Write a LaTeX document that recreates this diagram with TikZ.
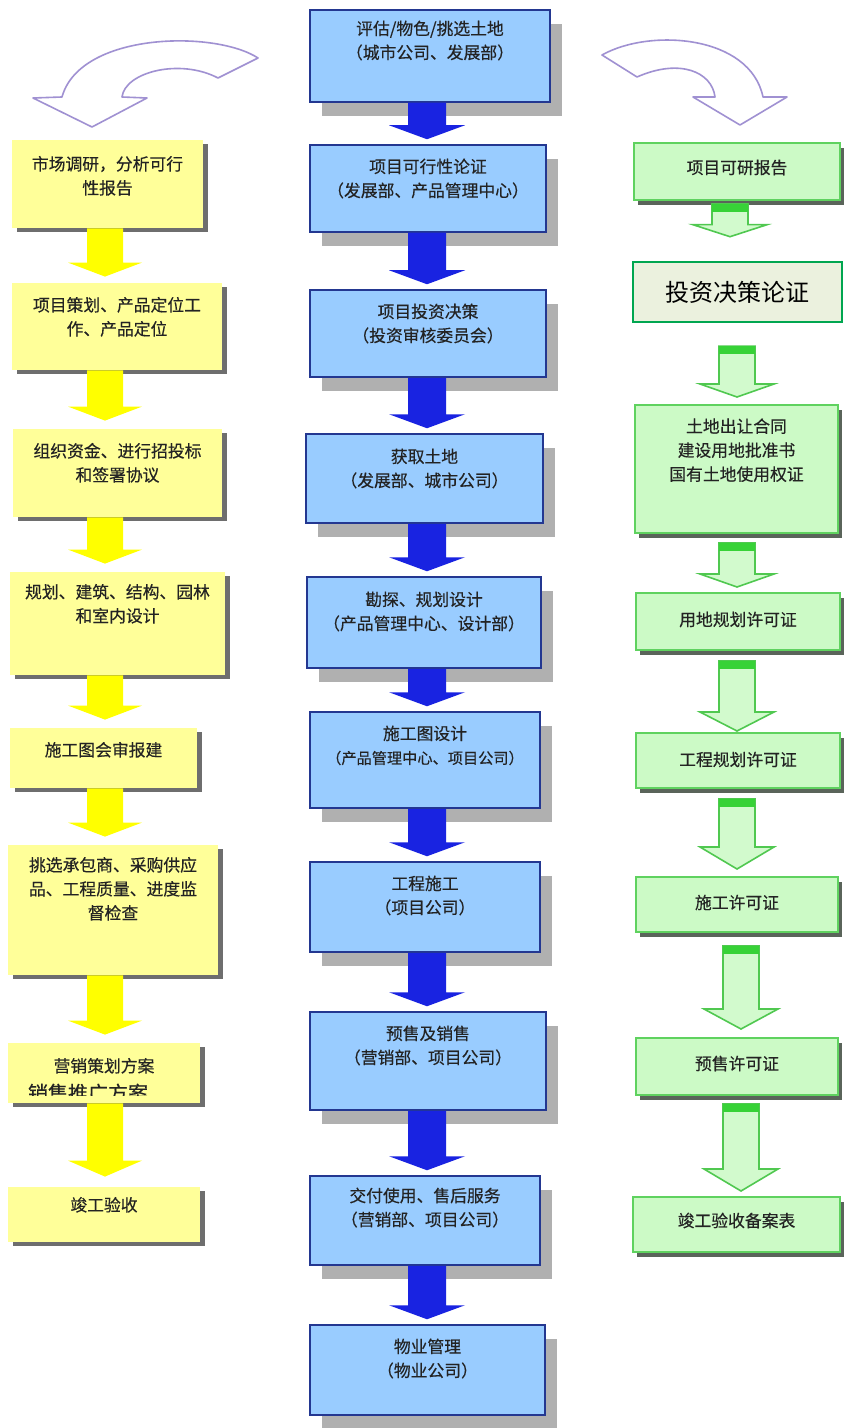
\documentclass[tikz,border=0pt]{standalone}
\usepackage{fontspec}
\newfontfamily\cjk[FakeBold=0.35]{Noto Sans CJK SC}
\newfontfamily\cjkplain{Noto Sans CJK SC}
\usetikzlibrary{calc,fit,shadows}
\definecolor{bfill}{RGB}{153,204,255}
\definecolor{bedge}{RGB}{35,55,145}
\definecolor{bshad}{RGB}{176,176,176}
\definecolor{barrowc}{RGB}{25,35,225}
\definecolor{yfill}{RGB}{255,255,153}
\definecolor{yshad}{RGB}{110,110,110}
\definecolor{yarrowc}{RGB}{255,255,0}
\definecolor{gfill}{RGB}{204,250,198}
\definecolor{gedge}{RGB}{95,210,95}
\definecolor{gshad}{RGB}{90,100,90}
\definecolor{garrowf}{RGB}{210,250,205}
\definecolor{garrowe}{RGB}{80,200,80}
\definecolor{gbandc}{RGB}{55,210,55}
\definecolor{dfill}{RGB}{235,241,222}
\definecolor{dedge}{RGB}{0,166,80}
\definecolor{curvc}{RGB}{160,145,210}
\definecolor{txtc}{RGB}{35,35,35}
% column block arrow: style, from node, to node, column coordinate, shaft half width, head half width, head length, gap (px)
\newcommand\colarrow[8]{%
  \path[#1] let \p1=(#2.south -| #4), \p2=(#3.north -| #4) in
    (\x1-#5*0.5pt,\y1) -- (\x1-#5*0.5pt,\y2+#7*0.5pt+#8*0.5pt) -- (\x1-#6*0.5pt,\y2+#7*0.5pt+#8*0.5pt)
    -- (\x1,\y2+#8*0.5pt) -- (\x1+#6*0.5pt,\y2+#7*0.5pt+#8*0.5pt) -- (\x1+#5*0.5pt,\y2+#7*0.5pt+#8*0.5pt)
    -- (\x1+#5*0.5pt,\y1) -- cycle;}
% green block arrow: from, to, column, head length, start gap, end gap (px)
\newcommand\garrow[6]{%
  \path[garr] let \p1=(#1.south -| #3), \p2=(#2.north -| #3) in
    (\x1-9pt,\y1-#5*0.5pt) -- (\x1-9pt,\y2+#4*0.5pt+#6*0.5pt) -- (\x1-18.5pt,\y2+#4*0.5pt+#6*0.5pt)
    -- (\x1,\y2+#6*0.5pt) -- (\x1+18.5pt,\y2+#4*0.5pt+#6*0.5pt) -- (\x1+9pt,\y2+#4*0.5pt+#6*0.5pt)
    -- (\x1+9pt,\y1-#5*0.5pt) -- cycle;
  \fill[gbandst] let \p1=(#1.south -| #3) in
    (\x1-9pt,\y1-#5*0.5pt) rectangle (\x1+9pt,\y1-#5*0.5pt-4pt);}
\tikzset{
  txt/.style={font=\cjk\fontsize{8.4}{12}\selectfont, align=center, inner sep=0pt, text=txtc},
  bbox/.style={draw=bedge, line width=0.75pt, fill=bfill, inner sep=0pt,
    drop shadow={shadow xshift=6pt, shadow yshift=-7pt, fill=bshad, opacity=1}},
  ybox/.style={fill=yfill, inner sep=0pt,
    drop shadow={shadow xshift=2.5pt, shadow yshift=-2pt, fill=yshad, opacity=1}},
  gbox/.style={draw=gedge, line width=1pt, fill=gfill, inner sep=0pt,
    drop shadow={shadow xshift=2pt, shadow yshift=-2.5pt, fill=gshad, opacity=1}},
  dbox/.style={draw=dedge, line width=1.3pt, fill=dfill, inner sep=0pt},
  barr/.style={fill=barrowc},
  yarr/.style={fill=yarrowc},
  garr/.style={fill=garrowf, draw=garrowe, line width=0.8pt, line join=miter},
  gbandst/.style={fill=gbandc},
  curv/.style={draw=curvc, line width=0.8pt, fill=white, line join=round},
}
\begin{document}
\begin{tikzpicture}[x=0.5pt,y=-0.5pt]
\useasboundingbox[fill=white] (0,0) rectangle (847,1428);

% curved arrows at the top
\draw[curv] (258,58) .. controls (215,30) and (80,32) .. (62,97) -- (33,98) -- (92,127) -- (147,98) -- (122,97)
  .. controls (125,72) and (180,58) .. (218,78) -- cycle;
\draw[curv] (602,55) .. controls (650,28) and (750,35) .. (763,97) -- (787,97) -- (740,125) -- (693,97) -- (715,97)
  .. controls (712,72) and (680,58) .. (637,77) -- cycle;

% column coordinates
\coordinate (bx) at (427,0);
\coordinate (yx) at (105,0);
\coordinate (gxa) at (730,0);
\coordinate (gxb) at (737,0);
\coordinate (gxc) at (741,0);

% centre (blue) boxes
\node[bbox, fit={(310,10) (550,102)}] (c1) {};
\node[bbox, fit={(310,145) (546,232)}] (c2) {};
\node[bbox, fit={(310,290) (546,377)}] (c3) {};
\node[bbox, fit={(306,434) (543,523)}] (c4) {};
\node[bbox, fit={(307,577) (541,668)}] (c5) {};
\node[bbox, fit={(310,712) (540,808)}] (c6) {};
\node[bbox, fit={(310,862) (540,952)}] (c7) {};
\node[bbox, fit={(310,1012) (546,1110)}] (c8) {};
\node[bbox, fit={(310,1176) (540,1265)}] (c9) {};
\node[bbox, fit={(310,1325) (545,1415)}] (c10) {};

% left (yellow) boxes
\node[ybox, fit={(12,140) (203,228)}] (y1) {};
\node[ybox, fit={(12,283) (222,370)}] (y2) {};
\node[ybox, fit={(13,429) (222,517)}] (y3) {};
\node[ybox, fit={(10,572) (225,675)}] (y4) {};
\node[ybox, fit={(10,728) (197,788)}] (y5) {};
\node[ybox, fit={(8,845) (218,975)}] (y6) {};
\node[ybox, fit={(8,1043) (200,1103)}] (y7) {};
\node[ybox, fit={(8,1187) (200,1242)}] (y8) {};

% right (green) boxes
\node[gbox, fit={(634,143) (840,200)}] (g1) {};
\node[dbox, fit={(633,262) (842,322)}] (g2) {};
\node[gbox, fit={(635,405) (838,533)}] (g3) {};
\node[gbox, fit={(636,593) (840,650)}] (g4) {};
\node[gbox, fit={(636,733) (840,788)}] (g5) {};
\node[gbox, fit={(636,877) (838,932)}] (g6) {};
\node[gbox, fit={(636,1038) (838,1095)}] (g7) {};
\node[gbox, fit={(633,1197) (840,1252)}] (g8) {};

% blue arrows
\colarrow{barr}{c1}{c2}{bx}{19}{38}{14}{5}
\colarrow{barr}{c2}{c3}{bx}{19}{38}{14}{5}
\colarrow{barr}{c3}{c4}{bx}{19}{38}{14}{5}
\colarrow{barr}{c4}{c5}{bx}{19}{38}{14}{5}
\colarrow{barr}{c5}{c6}{bx}{19}{38}{14}{5}
\colarrow{barr}{c6}{c7}{bx}{19}{38}{14}{5}
\colarrow{barr}{c7}{c8}{bx}{19}{38}{14}{5}
\colarrow{barr}{c8}{c9}{bx}{19}{38}{14}{5}
\colarrow{barr}{c9}{c10}{bx}{19}{38}{14}{5}

% yellow arrows
\colarrow{yarr}{y1}{y2}{yx}{18}{37}{14}{6}
\colarrow{yarr}{y2}{y3}{yx}{18}{37}{14}{8}
\colarrow{yarr}{y3}{y4}{yx}{18}{37}{14}{8}
\colarrow{yarr}{y4}{y5}{yx}{18}{37}{14}{8}
\colarrow{yarr}{y5}{y6}{yx}{18}{37}{14}{8}
\colarrow{yarr}{y6}{y7}{yx}{18}{37}{14}{8}
\colarrow{yarr}{y7}{y8}{yx}{18}{37}{16}{10}

% green arrows
\garrow{g1}{g2}{gxa}{12}{3}{24}
\garrow{g2}{g3}{gxb}{13}{23}{7}
\garrow{g3}{g4}{gxb}{13}{9}{5}
\garrow{g4}{g5}{gxb}{19}{10}{1}
\garrow{g5}{g6}{gxb}{22}{10}{7}
\garrow{g6}{g7}{gxc}{20}{13}{8}
\garrow{g7}{g8}{gxc}{22}{8}{5}

% centre texts
\node[txt, anchor=north] (tc1) at ($(c1.north)+(0,11)$) {评估/物色/挑选土地\\（城市公司、发展部）};
\node[txt, anchor=north] (tc2) at ($(c2.north)+(0,14)$) {项目可行性论证\\（发展部、产品管理中心）};
\node[txt, anchor=north] (tc3) at ($(c3.north)+(0,14)$) {项目投资决策\\（投资审核委员会）};
\node[txt, anchor=north] (tc4) at ($(c4.north)+(0,15)$) {获取土地\\（发展部、城市公司）};
\node[txt, anchor=north] (tc5) at ($(c5.north)+(0,15)$) {勘探、规划设计\\（产品管理中心、设计部）};
\node[txt, anchor=north] (tc6) at ($(c6.north)+(0,14)$) {施工图设计\\{\fontsize{7.6}{12}\selectfont（产品管理中心、项目公司）}};
\node[txt, anchor=north] (tc7) at ($(c7.north)+(0,14)$) {工程施工\\（项目公司）};
\node[txt, anchor=north] (tc8) at ($(c8.north)+(0,14)$) {预售及销售\\（营销部、项目公司）};
\node[txt, anchor=north] (tc9) at ($(c9.north)+(0,12)$) {交付使用、售后服务\\（营销部、项目公司）};
\node[txt, anchor=north] (tc10) at ($(c10.north)+(0,14)$) {物业管理\\（物业公司）};

% left texts
\node[txt, anchor=north] (ty1) at ($(y1.north)+(0,16)$) {市场调研，分析可行\\性报告};
\node[txt, anchor=north] (ty2) at ($(y2.north)+(0,14)$) {项目策划、产品定位工\\作、产品定位};
\node[txt, anchor=north] (ty3) at ($(y3.north)+(0,14)$) {组织资金、进行招投标\\和签署协议};
\node[txt, anchor=north] (ty4) at ($(y4.north)+(0,12)$) {规划、建筑、结构、园林\\和室内设计};
\node[txt, anchor=north] (ty5) at ($(y5.north)+(0,14)$) {施工图会审报建};
\node[txt, anchor=north] (ty6) at ($(y6.north)+(0,12)$) {挑选承包商、采购供应\\品、工程质量、进度监\\督检查};
\node[txt, anchor=north] (ty7) at ($(y7.north)+(0,15)$) {营销策划方案};
\begin{scope}
  \clip (8,1043) rectangle (200,1095);
  \node[txt, font=\cjk\fontsize{10}{12}\selectfont] (ty7b) at (88,1093) {销售推广方案};
\end{scope}
\node[txt, anchor=north] (ty8) at ($(y8.north)+(0,10)$) {竣工验收};

% right texts
\node[txt] (tg1) at ($(g1.center)+(0,-4)$) {项目可研报告};
\node[txt, font=\cjkplain\fontsize{12}{14}\selectfont, text=black] (tg2) at (g2.center) {投资决策论证};
\node[txt, anchor=north] (tg3) at ($(g3.north)+(0,14)$) {土地出让合同\\建设用地批准书\\国有土地使用权证};
\node[txt] (tg4) at ($(g4.center)+(0,-2)$) {用地规划许可证};
\node[txt] (tg5) at ($(g5.center)+(0,-1)$) {工程规划许可证};
\node[txt] (tg6) at ($(g6.center)+(0,-2)$) {施工许可证};
\node[txt] (tg7) at ($(g7.center)+(0,-3)$) {预售许可证};
\node[txt] (tg8) at ($(g8.center)+(0,-4)$) {竣工验收备案表};
\end{tikzpicture}
\end{document}
